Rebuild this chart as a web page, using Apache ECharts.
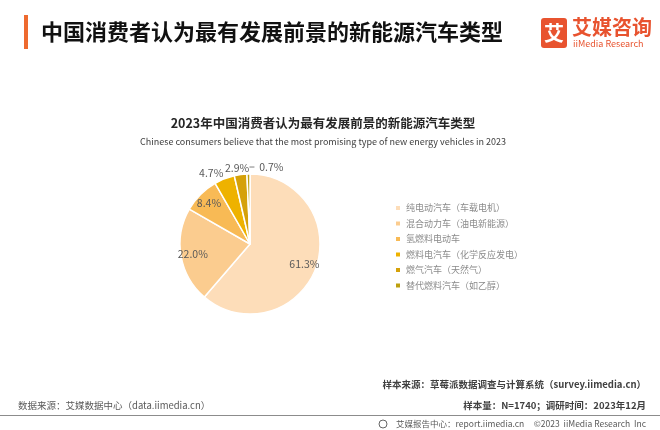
<!DOCTYPE html>
<html>
<head>
<meta charset="utf-8">
<script src="https://cdn.jsdelivr.net/npm/echarts@6/dist/echarts.min.js"></script>
<style>
html,body{margin:0;padding:0;background:#fff;}
#c{width:660px;height:430px;}
</style>
</head>
<body>
<div id="c"></div>
<script>
var pageTitle = '中国消费者认为最有发展前景的新能源汽车类型';
var chartTitle = '2023年中国消费者认为最有发展前景的新能源汽车类型';
var chartSubtitle = 'Chinese consumers believe that the most promising type of new energy vehicles in 2023';
var categories = ['纯电动汽车（车载电机）', '混合动力车（油电新能源）', '氢燃料电动车', '燃料电汽车（化学反应发电）', '燃气汽车（天然气）', '替代燃料汽车（如乙醇）'];
var values = [61.3, 22.0, 8.4, 4.7, 2.9, 0.7];
var colors = ['#FDDDB9', '#FBCC8F', '#F8BA55', '#EEB200', '#D5A109', '#BDA00E'];
var sourceLeft = '数据来源：艾媒数据中心（data.iimedia.cn）';
var sampleSource = '样本来源：草莓派数据调查与计算系统（survey.iimedia.cn）';
var sampleSize = '样本量：N=1740；调研时间：2023年12月';
var footer = '艾媒报告中心：report.iimedia.cn     ©2023  iiMedia Research  Inc';

var FONT = '"Noto Sans CJK SC", "Noto Sans", sans-serif';
var chart = echarts.init(document.getElementById('c'), null, {renderer: 'canvas'});

var visualData = categories.map(function (n, i) {
  return {name: n, value: values[i], itemStyle: {color: colors[i]}};
});
var labelData = categories.map(function (n, i) {
  return {
    name: n, value: values[i],
    label: {position: i < 3 ? 'inside' : 'outside'}
  };
});

chart.setOption({
  backgroundColor: '#fff',
  animation: false,
  legend: {
    orient: 'vertical',
    left: 389,
    top: 197,
    icon: 'rect',
    itemWidth: 6,
    itemHeight: 6,
    itemGap: 3.5,
    textStyle: {fontFamily: FONT, fontSize: 9, color: '#8a8a8a', lineHeight: 12},
    data: categories
  },
  series: [{
    type: 'pie',
    center: [250, 244],
    radius: [0, 70],
    startAngle: 90,
    clockwise: true,
    silent: true,
    label: {show: false},
    labelLine: {show: false},
    itemStyle: {borderColor: '#fff', borderWidth: 1.5},
    data: visualData
  }, {
    type: 'pie',
    center: [250, 244],
    radius: [40, 70],
    startAngle: 90,
    clockwise: true,
    silent: true,
    avoidLabelOverlap: false,
    itemStyle: {color: 'rgba(0,0,0,0)'},
    label: {
      show: true,
      formatter: function (p) {
        var t = p.value.toFixed(1) + '%';
        return p.dataIndex === 5 ? '{d|}  ' + t : t;
      },
      fontFamily: FONT,
      fontSize: 10.5,
      color: '#595959',
      rich: {
        d: {width: 5, height: 1, backgroundColor: '#7f7f7f'}
      }
    },
    labelLine: {show: false, length: 3, length2: 4},
    labelLayout: function (p) {
      if (p.dataIndex === 5) { return {dx: 44, dy: -4}; }
      if (p.dataIndex === 4) { return {dx: 18, dy: -4}; }
      if (p.dataIndex === 3) { return {dx: 9, dy: -3}; }
      return {};
    },
    data: labelData
  }],
  graphic: [
    {type: 'rect', shape: {x: 24, y: 15, width: 4, height: 34}, style: {fill: '#EE6A2F'}},
    {type: 'text', x: 41, y: 32, style: {text: pageTitle, font: 'bold 22px ' + FONT, fill: '#111', textVerticalAlign: 'middle'}},
    {type: 'rect', shape: {x: 541, y: 18, width: 26, height: 30, r: 3}, style: {fill: '#E8532F'}},
    {type: 'text', x: 554, y: 33, style: {text: '艾', font: 'bold 20px ' + FONT, fill: '#fff', textAlign: 'center', textVerticalAlign: 'middle'}},
    {type: 'text', x: 572, y: 27, style: {text: '艾媒咨询', font: 'bold 20px ' + FONT, fill: '#E8532F', textVerticalAlign: 'middle'}},
    {type: 'text', x: 573, y: 44, style: {text: 'iiMedia Research', font: '9px ' + FONT, fill: '#E8532F', textVerticalAlign: 'middle'}},
    {type: 'text', x: 323, y: 123, style: {text: chartTitle, font: 'bold 12.5px ' + FONT, fill: '#262626', textAlign: 'center', textVerticalAlign: 'middle'}},
    {type: 'text', x: 323, y: 142, style: {text: chartSubtitle, font: '9px ' + FONT, fill: '#404040', textAlign: 'center', textVerticalAlign: 'middle'}},
    {type: 'text', x: 646, y: 384, style: {text: sampleSource, font: 'bold 9.5px ' + FONT, fill: '#404040', textAlign: 'right', textVerticalAlign: 'middle'}},
    {type: 'text', x: 646, y: 405, style: {text: sampleSize, font: 'bold 9.5px ' + FONT, fill: '#404040', textAlign: 'right', textVerticalAlign: 'middle'}},
    {type: 'text', x: 18, y: 405, style: {text: sourceLeft, font: '9.5px ' + FONT, fill: '#595959', textVerticalAlign: 'middle'}},
    {type: 'line', shape: {x1: 0, y1: 415.5, x2: 660, y2: 415.5}, style: {stroke: '#8c8c8c', lineWidth: 1}},
    {type: 'circle', shape: {cx: 383, cy: 424, r: 4}, style: {fill: 'none', stroke: '#666', lineWidth: 1}},
    {type: 'text', x: 646, y: 424, style: {text: footer, font: '8.5px ' + FONT, fill: '#595959', textAlign: 'right', textVerticalAlign: 'middle'}}
  ]
});
</script>
</body>
</html>
